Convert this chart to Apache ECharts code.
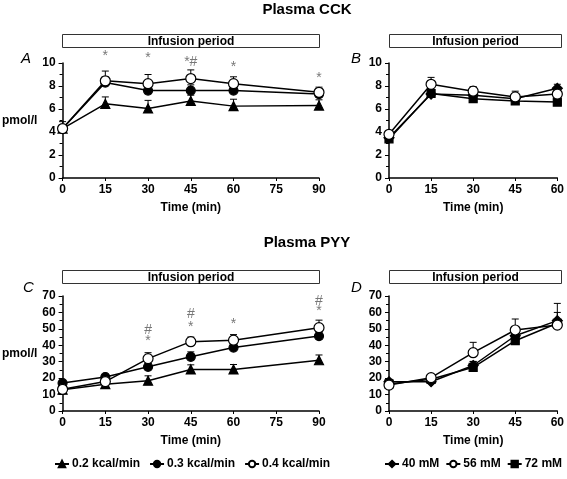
<!DOCTYPE html>
<html>
<head>
<meta charset="utf-8">
<script src="https://cdn.jsdelivr.net/npm/echarts@6/dist/echarts.min.js"></script>
<style>html,body{margin:0;padding:0;background:#fff}#c{width:567px;height:479px}</style>
</head>
<body>
<div id="c"></div>
<script>
// ---- data ----
const timeKcal = [0, 15, 30, 45, 60, 90];
const timeMM = [0, 15, 30, 45, 60];
const kcalNames = ['0.2 kcal/min', '0.3 kcal/min', '0.4 kcal/min'];
const mmNames = ['40 mM', '56 mM', '72 mM'];

// Panel A: plasma CCK (pmol/l)
const cck02 = [4.3, 6.45, 6.05, 6.7, 6.25, 6.3];
const cck02Err = [0.3, 0.6, 0.7, 0.5, 0.6, 0.5];
const cck03 = [4.3, 8.3, 7.6, 7.6, 7.6, 7.3];
const cck03Err = [0.3, 0.5, 0.5, 0.5, 0.4, 0.4];
const cck04 = [4.3, 8.45, 8.2, 8.65, 8.2, 7.45];
const cck04Err = [0.6, 0.85, 0.8, 0.75, 0.6, 0.45];

// Panel B: plasma CCK (pmol/l)
const cck40 = [3.5, 7.3, 7.2, 6.9, 7.8];
const cck40Err = [0.2, 0.3, 0.3, 0.3, 0.35];
const cck56 = [3.8, 8.15, 7.55, 7.05, 7.3];
const cck56Err = [0.2, 0.6, 0.4, 0.5, 0.3];
const cck72 = [3.4, 7.35, 6.9, 6.7, 6.6];
const cck72Err = [0.2, 0.2, 0.2, 0.2, 0.2];

// Panel C: plasma PYY (pmol/l)
const pyy02 = [13, 16.3, 18.4, 25.3, 25.3, 30.9];
const pyy02Err = [1, 1, 3, 2.8, 3, 3.2];
const pyy03 = [17, 20.7, 26.9, 33, 38.6, 45.6];
const pyy03Err = [1.5, 1.5, 2, 3, 2, 2];
const pyy04 = [13.2, 17.9, 31.9, 42.2, 43.1, 50.7];
const pyy04Err = [1.5, 1.5, 3.6, 2.8, 3.4, 4.6];

// Panel D: plasma PYY (pmol/l)
const pyy40 = [17.8, 17.8, 27.7, 45.8, 55];
const pyy40Err = [1.5, 1.5, 2.5, 3, 10.5];
const pyy56 = [15.8, 20.3, 35.5, 49.3, 52.3];
const pyy56Err = [1.5, 1.5, 6.3, 6.7, 1];
const pyy72 = [16.5, 19.3, 26.6, 42.8, 53.4];
const pyy72Err = [1.5, 1.5, 3.5, 3, 6.6];

// significance annotations
const annotA_x = [15, 30, 45, 60, 90];
const annotA_y = [10.6, 10.4, 10.1, 9.6, 8.7];
const annotA_t = ['*', '*', '*#', '*', '*'];
const annotC_x = [30, 30, 45, 45, 60, 90, 90];
const annotC_y = [42.6, 49, 50.9, 58.8, 52.8, 60.9, 67];
const annotC_t = ['*', '#', '*', '#', '*', '*', '#'];

// axis ticks
const yTicksCCK = {min: 0, max: 10, interval: 2};
const yTicksPYY = {min: 0, max: 70, interval: 10};
const xTicksKcal = {min: 0, max: 90, interval: 15};
const xTicksMM = {min: 0, max: 60, interval: 15};

// ---- chart ----
const FONT = '"Liberation Sans", Arial, sans-serif';
const chart = echarts.init(document.getElementById('c'), null, {renderer: 'canvas'});

const grids = [
  {left: 62, top: 63, width: 257, height: 115},
  {left: 389, top: 63, width: 172, height: 115},
  {left: 62, top: 296, width: 257, height: 115},
  {left: 389, top: 296, width: 172, height: 115}
];

function xAxis(i, t) {
  return {
    type: 'value', gridIndex: i, min: t.min, max: t.max, interval: t.interval,
    name: 'Time (min)', nameLocation: 'middle', nameGap: 24,
    nameTextStyle: {fontFamily: FONT, fontWeight: 'bold', fontSize: 12, color: '#000'},
    axisLine: {show: true, onZero: false, lineStyle: {color: '#000', width: 1.5}},
    axisTick: {show: true, length: 3, lineStyle: {color: '#000', width: 1}},
    axisLabel: {fontFamily: FONT, fontWeight: 'bold', fontSize: 12, color: '#000', margin: 6},
    splitLine: {show: false}
  };
}
function yAxis(i, t, named) {
  return {
    type: 'value', gridIndex: i, min: t.min, max: t.max, interval: t.interval,
    name: named ? 'pmol/l' : '', nameLocation: 'middle', nameRotate: 0, nameGap: 24,
    nameTextStyle: {fontFamily: FONT, fontWeight: 'bold', fontSize: 12, color: '#000', align: 'right'},
    axisLine: {show: true, onZero: false, lineStyle: {color: '#000', width: 1.5}},
    axisTick: {show: true, length: 4, lineStyle: {color: '#000', width: 1}},
    minorTick: {show: true, splitNumber: 2, length: 3, lineStyle: {color: '#000', width: 1}},
    axisLabel: {fontFamily: FONT, fontWeight: 'bold', fontSize: 12, color: '#000', margin: 7},
    splitLine: {show: false}
  };
}

const SYMBOLS = {
  '0.2 kcal/min': {symbol: 'triangle', size: 9, fill: '#000'},
  '0.3 kcal/min': {symbol: 'circle', size: 9, fill: '#000'},
  '0.4 kcal/min': {symbol: 'circle', size: 10, fill: '#fff'},
  '40 mM': {symbol: 'diamond', size: 10, fill: '#000'},
  '56 mM': {symbol: 'circle', size: 10, fill: '#fff'},
  '72 mM': {symbol: 'rect', size: 8, fill: '#000'}
};

function lineSeries(name, gi, xs, ys, z) {
  const s = SYMBOLS[name];
  return {
    type: 'line', name, xAxisIndex: gi, yAxisIndex: gi, z,
    data: xs.map((x, i) => [x, ys[i]]),
    symbol: s.symbol, symbolSize: s.size, showSymbol: true,
    lineStyle: {color: '#000', width: 1.5},
    itemStyle: {color: s.fill, borderColor: '#000', borderWidth: 1.2},
    emphasis: {disabled: true}, animation: false
  };
}
function errSeries(gi, xs, ys, es) {
  return {
    type: 'custom', xAxisIndex: gi, yAxisIndex: gi, z: 1, silent: true, animation: false,
    data: xs.map((x, i) => [x, ys[i], es[i]]),
    renderItem: function (params, api) {
      const p0 = api.coord([api.value(0), api.value(1)]);
      const p1 = api.coord([api.value(0), api.value(1) + api.value(2)]);
      return {type: 'group', children: [
        {type: 'line', shape: {x1: p0[0], y1: p0[1], x2: p1[0], y2: p1[1]}, style: {stroke: '#000', lineWidth: 1}},
        {type: 'line', shape: {x1: p1[0] - 3.5, y1: p1[1], x2: p1[0] + 3.5, y2: p1[1]}, style: {stroke: '#000', lineWidth: 1}}
      ]};
    }
  };
}
function annotSeries(gi, xs, ys, ts) {
  return {
    type: 'scatter', xAxisIndex: gi, yAxisIndex: gi, z: 5, silent: true, clip: false, animation: false,
    symbolSize: 0,
    data: xs.map((x, i) => ({value: [x, ys[i]], label: {show: true, formatter: ts[i]}})),
    label: {show: true, position: 'inside', fontFamily: FONT, fontSize: 14, color: '#555'}
  };
}

const series = [
  errSeries(0, timeKcal, cck02, cck02Err), errSeries(0, timeKcal, cck03, cck03Err), errSeries(0, timeKcal, cck04, cck04Err),
  lineSeries(kcalNames[0], 0, timeKcal, cck02, 2), lineSeries(kcalNames[1], 0, timeKcal, cck03, 3), lineSeries(kcalNames[2], 0, timeKcal, cck04, 4),
  annotSeries(0, annotA_x, annotA_y, annotA_t),

  errSeries(1, timeMM, cck40, cck40Err), errSeries(1, timeMM, cck56, cck56Err), errSeries(1, timeMM, cck72, cck72Err),
  lineSeries(mmNames[2], 1, timeMM, cck72, 2), lineSeries(mmNames[0], 1, timeMM, cck40, 3), lineSeries(mmNames[1], 1, timeMM, cck56, 4),

  errSeries(2, timeKcal, pyy02, pyy02Err), errSeries(2, timeKcal, pyy03, pyy03Err), errSeries(2, timeKcal, pyy04, pyy04Err),
  lineSeries(kcalNames[0], 2, timeKcal, pyy02, 2), lineSeries(kcalNames[1], 2, timeKcal, pyy03, 3), lineSeries(kcalNames[2], 2, timeKcal, pyy04, 4),
  annotSeries(2, annotC_x, annotC_y, annotC_t),

  errSeries(3, timeMM, pyy40, pyy40Err), errSeries(3, timeMM, pyy56, pyy56Err), errSeries(3, timeMM, pyy72, pyy72Err),
  lineSeries(mmNames[2], 3, timeMM, pyy72, 2), lineSeries(mmNames[0], 3, timeMM, pyy40, 3), lineSeries(mmNames[1], 3, timeMM, pyy56, 4)
];

function infusionBox(g, topPx) {
  return {
    type: 'group', left: g.left, top: topPx, children: [
      {type: 'rect', shape: {x: 0, y: 0, width: g.width, height: 13}, style: {fill: '#fff', stroke: '#333', lineWidth: 1}},
      {type: 'text', x: g.width / 2, y: 7, style: {text: 'Infusion period', fontFamily: FONT, fontWeight: 'bold', fontSize: 12, fill: '#000', align: 'center', verticalAlign: 'middle'}}
    ]
  };
}
function letter(txt, x, y) {
  return {type: 'text', left: x, top: y, style: {text: txt, fontFamily: FONT, fontStyle: 'italic', fontSize: 15, fill: '#000'}};
}

const legendCommon = {
  orient: 'horizontal', itemWidth: 14, itemHeight: 8,
  textStyle: {fontFamily: FONT, fontWeight: 'bold', fontSize: 12, color: '#000', padding: [0, 0, 0, -2]},
  selectedMode: false, top: 458, padding: 0
};

chart.setOption({
  backgroundColor: '#fff',
  animation: false,
  title: [
    {text: 'Plasma CCK', left: 307, top: 2, padding: 0, textAlign: 'center', textStyle: {fontFamily: FONT, fontWeight: 'bold', fontSize: 15, color: '#000'}},
    {text: 'Plasma PYY', left: 307, top: 235, padding: 0, textAlign: 'center', textStyle: {fontFamily: FONT, fontWeight: 'bold', fontSize: 15, color: '#000'}}
  ],
  grid: grids,
  xAxis: [xAxis(0, xTicksKcal), xAxis(1, xTicksMM), xAxis(2, xTicksKcal), xAxis(3, xTicksMM)],
  yAxis: [yAxis(0, yTicksCCK, true), yAxis(1, yTicksCCK, false), yAxis(2, yTicksPYY, true), yAxis(3, yTicksPYY, false)],
  legend: [
    Object.assign({}, legendCommon, {left: 54, itemGap: 9, width: 300, data: kcalNames}),
    Object.assign({}, legendCommon, {left: 384, itemGap: 6, width: 183, data: mmNames})
  ],
  graphic: [
    infusionBox(grids[0], 34), infusionBox(grids[1], 34),
    infusionBox(grids[2], 270), infusionBox(grids[3], 270),
    letter('A', 21, 51), letter('B', 351, 51), letter('C', 23, 280), letter('D', 351, 280)
  ],
  series
});
</script>
</body>
</html>
